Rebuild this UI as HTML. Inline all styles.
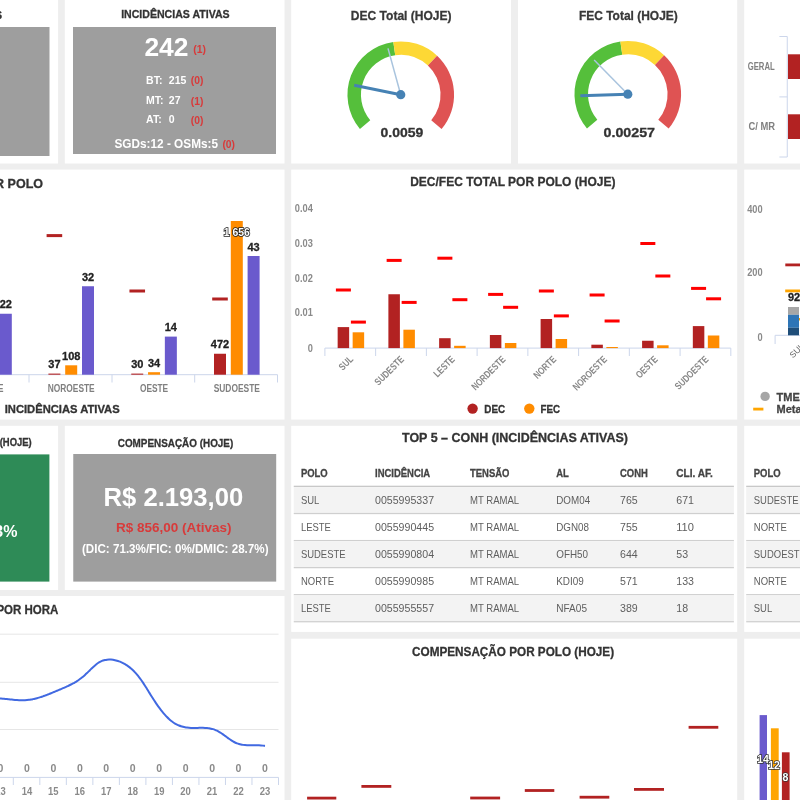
<!DOCTYPE html>
<html><head><meta charset="utf-8"><style>
html,body{margin:0;padding:0;background:#eeeeee;width:800px;height:800px;overflow:hidden}
svg{position:absolute;left:0;top:0;font-family:"Liberation Sans",sans-serif;will-change:transform}
</style></head><body>
<svg width="800" height="800" viewBox="0 0 800 800">
<rect x="-10.00" y="-10.00" width="68.10" height="173.50" fill="#fff" />
<rect x="64.80" y="-10.00" width="219.70" height="173.50" fill="#fff" />
<rect x="291.20" y="-10.00" width="219.80" height="173.50" fill="#fff" />
<rect x="518.00" y="-10.00" width="219.20" height="173.50" fill="#fff" />
<rect x="744.20" y="-10.00" width="65.80" height="173.50" fill="#fff" />
<rect x="-10.00" y="169.60" width="294.50" height="250.00" fill="#fff" />
<rect x="291.20" y="169.60" width="446.00" height="250.00" fill="#fff" />
<rect x="744.20" y="169.60" width="65.80" height="250.00" fill="#fff" />
<rect x="-10.00" y="425.80" width="68.10" height="164.20" fill="#fff" />
<rect x="64.80" y="425.80" width="219.70" height="164.20" fill="#fff" />
<rect x="291.20" y="425.80" width="446.00" height="206.10" fill="#fff" />
<rect x="744.20" y="425.80" width="65.80" height="206.10" fill="#fff" />
<rect x="-10.00" y="596.00" width="294.50" height="214.00" fill="#fff" />
<rect x="291.20" y="638.70" width="446.00" height="171.30" fill="#fff" />
<rect x="744.20" y="638.70" width="65.80" height="171.30" fill="#fff" />
<text x="2.00" y="19.00" font-size="11" fill="#333" font-weight="bold" text-anchor="end"  stroke="#333" stroke-width="0.3">INCIDÊNCIAS ATIVAS</text>
<rect x="-10.00" y="27.00" width="59.50" height="129.00" fill="#9e9e9e" />
<text x="175.40" y="18.40" font-size="11.5" fill="#333" font-weight="bold" text-anchor="middle" textLength="108.50" lengthAdjust="spacingAndGlyphs"  stroke="#333" stroke-width="0.3">INCIDÊNCIAS ATIVAS</text>
<rect x="73.00" y="27.00" width="203.00" height="127.00" fill="#9e9e9e" />
<text x="144.40" y="56.30" font-size="26.5" fill="#fff" font-weight="bold" text-anchor="start" textLength="44.10" lengthAdjust="spacingAndGlyphs" >242</text>
<text x="193.20" y="52.60" font-size="11.5" fill="#d83a3a" font-weight="bold" text-anchor="start" textLength="12.70" lengthAdjust="spacingAndGlyphs" >(1)</text>
<text x="146.10" y="83.60" font-size="10.5" fill="#fff" font-weight="bold" text-anchor="start" >BT:</text>
<text x="168.80" y="83.60" font-size="10.5" fill="#fff" font-weight="bold" text-anchor="start" >215</text>
<text x="190.80" y="84.10" font-size="11.5" fill="#d83a3a" font-weight="bold" text-anchor="start" textLength="12.60" lengthAdjust="spacingAndGlyphs" >(0)</text>
<text x="146.10" y="104.00" font-size="10.5" fill="#fff" font-weight="bold" text-anchor="start" >MT:</text>
<text x="168.80" y="104.00" font-size="10.5" fill="#fff" font-weight="bold" text-anchor="start" >27</text>
<text x="190.80" y="104.50" font-size="11.5" fill="#d83a3a" font-weight="bold" text-anchor="start" textLength="12.60" lengthAdjust="spacingAndGlyphs" >(1)</text>
<text x="146.10" y="123.40" font-size="10.5" fill="#fff" font-weight="bold" text-anchor="start" >AT:</text>
<text x="168.80" y="123.40" font-size="10.5" fill="#fff" font-weight="bold" text-anchor="start" >0</text>
<text x="190.80" y="123.90" font-size="11.5" fill="#d83a3a" font-weight="bold" text-anchor="start" textLength="12.60" lengthAdjust="spacingAndGlyphs" >(0)</text>
<text x="114.50" y="147.80" font-size="12" fill="#fff" font-weight="bold" text-anchor="start" textLength="103.50" lengthAdjust="spacingAndGlyphs" >SGDs:12 - OSMs:5</text>
<text x="222.40" y="148.40" font-size="11.5" fill="#d83a3a" font-weight="bold" text-anchor="start" textLength="12.60" lengthAdjust="spacingAndGlyphs" >(0)</text>
<path d="M359.92,128.96 A53.3,53.3 0 0 1 393.33,41.92 L395.21,55.29 A39.8,39.8 0 0 0 370.26,120.28 Z" fill="#55bf3b"/>
<path d="M393.33,41.92 A53.3,53.3 0 0 1 437.10,55.72 L427.89,65.59 A39.8,39.8 0 0 0 395.21,55.29 Z" fill="#fdd835"/>
<path d="M437.10,55.72 A53.3,53.3 0 0 1 441.58,128.96 L431.24,120.28 A39.8,39.8 0 0 0 427.89,65.59 Z" fill="#df5353"/>
<line x1="400.75" y1="94.70" x2="388.00" y2="48.42" stroke="#a9c4de" stroke-width="1.5" />
<line x1="400.75" y1="94.70" x2="354.20" y2="85.23" stroke="#4682b4" stroke-width="3" />
<circle cx="400.75" cy="94.7" r="4.6" fill="#4682b4"/>
<text x="401.20" y="19.60" font-size="13" fill="#383838" font-weight="bold" text-anchor="middle" textLength="100.80" lengthAdjust="spacingAndGlyphs"  stroke="#383838" stroke-width="0.3">DEC Total (HOJE)</text>
<text x="401.88" y="137.00" font-size="12.5" fill="#333" font-weight="bold" text-anchor="middle" textLength="42.75" lengthAdjust="spacingAndGlyphs"  stroke="#333" stroke-width="0.3">0.0059</text>
<path d="M586.97,128.46 A53.3,53.3 0 0 1 620.38,41.42 L622.26,54.79 A39.8,39.8 0 0 0 597.31,119.78 Z" fill="#55bf3b"/>
<path d="M620.38,41.42 A53.3,53.3 0 0 1 664.15,55.22 L654.94,65.09 A39.8,39.8 0 0 0 622.26,54.79 Z" fill="#fdd835"/>
<path d="M664.15,55.22 A53.3,53.3 0 0 1 668.63,128.46 L658.29,119.78 A39.8,39.8 0 0 0 654.94,65.09 Z" fill="#df5353"/>
<line x1="627.80" y1="94.20" x2="594.16" y2="59.96" stroke="#a9c4de" stroke-width="1.5" />
<line x1="627.80" y1="94.20" x2="580.33" y2="95.86" stroke="#4682b4" stroke-width="3" />
<circle cx="627.8" cy="94.2" r="4.6" fill="#4682b4"/>
<text x="628.35" y="19.60" font-size="13" fill="#383838" font-weight="bold" text-anchor="middle" textLength="98.90" lengthAdjust="spacingAndGlyphs"  stroke="#383838" stroke-width="0.3">FEC Total (HOJE)</text>
<text x="629.25" y="137.00" font-size="12.5" fill="#333" font-weight="bold" text-anchor="middle" textLength="51.50" lengthAdjust="spacingAndGlyphs"  stroke="#333" stroke-width="0.3">0.00257</text>
<line x1="787.25" y1="36.50" x2="787.25" y2="157.00" stroke="#ccd6eb" stroke-width="1" />
<line x1="779.40" y1="36.50" x2="787.25" y2="36.50" stroke="#ccd6eb" stroke-width="1" />
<line x1="779.40" y1="96.90" x2="787.25" y2="96.90" stroke="#ccd6eb" stroke-width="1" />
<line x1="779.40" y1="157.00" x2="787.25" y2="157.00" stroke="#ccd6eb" stroke-width="1" />
<text x="747.70" y="69.60" font-size="10.5" fill="#808080" font-weight="bold" text-anchor="start" textLength="27.00" lengthAdjust="spacingAndGlyphs" >GERAL</text>
<text x="748.40" y="129.70" font-size="10.5" fill="#808080" font-weight="bold" text-anchor="start" textLength="26.60" lengthAdjust="spacingAndGlyphs" >C/ MR</text>
<rect x="788.00" y="54.30" width="22.00" height="24.70" fill="#b22222" />
<rect x="788.00" y="114.30" width="22.00" height="24.70" fill="#b22222" />
<text x="43.00" y="188.20" font-size="12.5" fill="#333" font-weight="bold" text-anchor="end"  stroke="#333" stroke-width="0.3">INCIDÊNCIAS ATIVAS POR POLO</text>
<line x1="-10.00" y1="374.70" x2="277.50" y2="374.70" stroke="#ccd6eb" stroke-width="1" />
<line x1="29.00" y1="374.70" x2="29.00" y2="382.50" stroke="#ccd6eb" stroke-width="1" />
<line x1="112.00" y1="374.70" x2="112.00" y2="382.50" stroke="#ccd6eb" stroke-width="1" />
<line x1="194.70" y1="374.70" x2="194.70" y2="382.50" stroke="#ccd6eb" stroke-width="1" />
<line x1="277.50" y1="374.70" x2="277.50" y2="382.50" stroke="#ccd6eb" stroke-width="1" />
<rect x="-0.20" y="313.75" width="12.00" height="60.95" fill="#6a5acd" />
<text x="-11.00" y="391.50" font-size="10.5" fill="#808080" font-weight="bold" text-anchor="middle" textLength="29.00" lengthAdjust="spacingAndGlyphs" >LESTE</text>
<rect x="48.40" y="373.60" width="12.00" height="1.10" fill="#b22222" />
<rect x="65.20" y="365.30" width="12.00" height="9.40" fill="#ff8c00" />
<rect x="82.00" y="286.25" width="12.00" height="88.45" fill="#6a5acd" />
<rect x="46.60" y="234.10" width="15.60" height="3.00" fill="#b22222" />
<text x="71.20" y="391.50" font-size="10.5" fill="#808080" font-weight="bold" text-anchor="middle" textLength="47.00" lengthAdjust="spacingAndGlyphs" >NOROESTE</text>
<rect x="131.25" y="373.60" width="12.00" height="1.10" fill="#b22222" />
<rect x="148.05" y="372.20" width="12.00" height="2.50" fill="#ff8c00" />
<rect x="164.85" y="336.60" width="12.00" height="38.10" fill="#6a5acd" />
<rect x="129.45" y="289.50" width="15.60" height="3.00" fill="#b22222" />
<text x="154.05" y="391.50" font-size="10.5" fill="#808080" font-weight="bold" text-anchor="middle" textLength="28.30" lengthAdjust="spacingAndGlyphs" >OESTE</text>
<rect x="214.00" y="353.75" width="12.00" height="20.95" fill="#b22222" />
<rect x="230.80" y="221.00" width="12.00" height="153.70" fill="#ff8c00" />
<rect x="247.60" y="256.00" width="12.00" height="118.70" fill="#6a5acd" />
<rect x="212.20" y="297.50" width="15.60" height="3.00" fill="#b22222" />
<text x="236.80" y="391.50" font-size="10.5" fill="#808080" font-weight="bold" text-anchor="middle" textLength="46.30" lengthAdjust="spacingAndGlyphs" >SUDOESTE</text>
<text x="5.80" y="308.40" font-size="11" fill="#222" font-weight="bold" text-anchor="middle"  stroke="#222" stroke-width="0.3">22</text>
<text x="54.40" y="368.40" font-size="11" fill="#222" font-weight="bold" text-anchor="middle"  stroke="#222" stroke-width="0.3">37</text>
<text x="71.20" y="360.00" font-size="11" fill="#222" font-weight="bold" text-anchor="middle"  stroke="#222" stroke-width="0.3">108</text>
<text x="88.00" y="281.20" font-size="11" fill="#222" font-weight="bold" text-anchor="middle"  stroke="#222" stroke-width="0.3">32</text>
<text x="137.25" y="368.40" font-size="11" fill="#222" font-weight="bold" text-anchor="middle"  stroke="#222" stroke-width="0.3">30</text>
<text x="154.05" y="366.80" font-size="11" fill="#222" font-weight="bold" text-anchor="middle"  stroke="#222" stroke-width="0.3">34</text>
<text x="170.85" y="330.90" font-size="11" fill="#222" font-weight="bold" text-anchor="middle"  stroke="#222" stroke-width="0.3">14</text>
<text x="220.00" y="348.00" font-size="11" fill="#222" font-weight="bold" text-anchor="middle"  stroke="#222" stroke-width="0.3">472</text>
<text x="236.80" y="235.50" font-size="11" fill="#fff" font-weight="bold" text-anchor="middle" textLength="26.20" lengthAdjust="spacingAndGlyphs" stroke="#222" stroke-width="1.6" paint-order="stroke">1 656</text>
<text x="253.60" y="250.60" font-size="11" fill="#222" font-weight="bold" text-anchor="middle"  stroke="#222" stroke-width="0.3">43</text>
<text x="4.70" y="413.00" font-size="11" fill="#333" font-weight="bold" text-anchor="start" textLength="115.00" lengthAdjust="spacingAndGlyphs"  stroke="#333" stroke-width="0.3">INCIDÊNCIAS ATIVAS</text>
<text x="512.80" y="186.20" font-size="12.5" fill="#333" font-weight="bold" text-anchor="middle" textLength="205.20" lengthAdjust="spacingAndGlyphs"  stroke="#333" stroke-width="0.3">DEC/FEC TOTAL POR POLO (HOJE)</text>
<text x="312.80" y="211.90" font-size="10.5" fill="#8a8a8a" font-weight="bold" text-anchor="end" textLength="17.98" lengthAdjust="spacingAndGlyphs" >0.04</text>
<text x="312.80" y="246.80" font-size="10.5" fill="#8a8a8a" font-weight="bold" text-anchor="end" textLength="17.98" lengthAdjust="spacingAndGlyphs" >0.03</text>
<text x="312.80" y="281.80" font-size="10.5" fill="#8a8a8a" font-weight="bold" text-anchor="end" textLength="17.98" lengthAdjust="spacingAndGlyphs" >0.02</text>
<text x="312.80" y="316.40" font-size="10.5" fill="#8a8a8a" font-weight="bold" text-anchor="end" textLength="17.98" lengthAdjust="spacingAndGlyphs" >0.01</text>
<text x="312.80" y="351.90" font-size="10.5" fill="#8a8a8a" font-weight="bold" text-anchor="end" textLength="5.14" lengthAdjust="spacingAndGlyphs" >0</text>
<line x1="324.90" y1="348.10" x2="730.80" y2="348.10" stroke="#ccd6eb" stroke-width="1" />
<line x1="324.90" y1="348.10" x2="324.90" y2="356.00" stroke="#ccd6eb" stroke-width="1" />
<line x1="375.64" y1="348.10" x2="375.64" y2="356.00" stroke="#ccd6eb" stroke-width="1" />
<line x1="426.38" y1="348.10" x2="426.38" y2="356.00" stroke="#ccd6eb" stroke-width="1" />
<line x1="477.12" y1="348.10" x2="477.12" y2="356.00" stroke="#ccd6eb" stroke-width="1" />
<line x1="527.86" y1="348.10" x2="527.86" y2="356.00" stroke="#ccd6eb" stroke-width="1" />
<line x1="578.60" y1="348.10" x2="578.60" y2="356.00" stroke="#ccd6eb" stroke-width="1" />
<line x1="629.34" y1="348.10" x2="629.34" y2="356.00" stroke="#ccd6eb" stroke-width="1" />
<line x1="680.08" y1="348.10" x2="680.08" y2="356.00" stroke="#ccd6eb" stroke-width="1" />
<line x1="730.82" y1="348.10" x2="730.82" y2="356.00" stroke="#ccd6eb" stroke-width="1" />
<rect x="337.65" y="327.10" width="11.50" height="21.00" fill="#b22222" />
<rect x="352.65" y="332.30" width="11.50" height="15.80" fill="#ff8c00" />
<rect x="335.90" y="288.50" width="15.00" height="3.00" fill="#ff0000" />
<rect x="350.90" y="320.60" width="15.00" height="3.00" fill="#ff0000" />
<text x="353.90" y="360.00" font-size="10" font-weight="bold" fill="#888" text-anchor="end" textLength="15.60" lengthAdjust="spacingAndGlyphs" transform="rotate(-45 353.90 360.00)">SUL</text>
<rect x="388.39" y="294.25" width="11.50" height="53.85" fill="#b22222" />
<rect x="403.39" y="329.70" width="11.50" height="18.40" fill="#ff8c00" />
<rect x="386.64" y="258.90" width="15.00" height="3.00" fill="#ff0000" />
<rect x="401.64" y="300.90" width="15.00" height="3.00" fill="#ff0000" />
<text x="404.64" y="360.00" font-size="10" font-weight="bold" fill="#888" text-anchor="end" textLength="36.84" lengthAdjust="spacingAndGlyphs" transform="rotate(-45 404.64 360.00)">SUDESTE</text>
<rect x="439.13" y="338.20" width="11.50" height="9.90" fill="#b22222" />
<rect x="454.13" y="345.80" width="11.50" height="2.30" fill="#ff8c00" />
<rect x="437.38" y="256.70" width="15.00" height="3.00" fill="#ff0000" />
<rect x="452.38" y="298.20" width="15.00" height="3.00" fill="#ff0000" />
<text x="455.38" y="360.00" font-size="10" font-weight="bold" fill="#888" text-anchor="end" textLength="25.14" lengthAdjust="spacingAndGlyphs" transform="rotate(-45 455.38 360.00)">LESTE</text>
<rect x="489.87" y="335.00" width="11.50" height="13.10" fill="#b22222" />
<rect x="504.87" y="343.00" width="11.50" height="5.10" fill="#ff8c00" />
<rect x="488.12" y="292.90" width="15.00" height="3.00" fill="#ff0000" />
<rect x="503.12" y="305.80" width="15.00" height="3.00" fill="#ff0000" />
<text x="506.12" y="360.00" font-size="10" font-weight="bold" fill="#888" text-anchor="end" textLength="43.34" lengthAdjust="spacingAndGlyphs" transform="rotate(-45 506.12 360.00)">NORDESTE</text>
<rect x="540.61" y="319.00" width="11.50" height="29.10" fill="#b22222" />
<rect x="555.61" y="339.00" width="11.50" height="9.10" fill="#ff8c00" />
<rect x="538.86" y="289.50" width="15.00" height="3.00" fill="#ff0000" />
<rect x="553.86" y="314.40" width="15.00" height="3.00" fill="#ff0000" />
<text x="556.86" y="360.00" font-size="10" font-weight="bold" fill="#888" text-anchor="end" textLength="27.30" lengthAdjust="spacingAndGlyphs" transform="rotate(-45 556.86 360.00)">NORTE</text>
<rect x="591.35" y="344.70" width="11.50" height="3.40" fill="#b22222" />
<rect x="606.35" y="347.00" width="11.50" height="1.10" fill="#ff8c00" />
<rect x="589.60" y="293.50" width="15.00" height="3.00" fill="#ff0000" />
<rect x="604.60" y="319.50" width="15.00" height="3.00" fill="#ff0000" />
<text x="607.60" y="360.00" font-size="10" font-weight="bold" fill="#888" text-anchor="end" textLength="43.77" lengthAdjust="spacingAndGlyphs" transform="rotate(-45 607.60 360.00)">NOROESTE</text>
<rect x="642.09" y="340.75" width="11.50" height="7.35" fill="#b22222" />
<rect x="657.09" y="345.30" width="11.50" height="2.80" fill="#ff8c00" />
<rect x="640.34" y="242.00" width="15.00" height="3.00" fill="#ff0000" />
<rect x="655.34" y="274.50" width="15.00" height="3.00" fill="#ff0000" />
<text x="658.34" y="360.00" font-size="10" font-weight="bold" fill="#888" text-anchor="end" textLength="26.44" lengthAdjust="spacingAndGlyphs" transform="rotate(-45 658.34 360.00)">OESTE</text>
<rect x="692.83" y="326.10" width="11.50" height="22.00" fill="#b22222" />
<rect x="707.83" y="335.50" width="11.50" height="12.60" fill="#ff8c00" />
<rect x="691.08" y="286.90" width="15.00" height="3.00" fill="#ff0000" />
<rect x="706.08" y="297.30" width="15.00" height="3.00" fill="#ff0000" />
<text x="709.08" y="360.00" font-size="10" font-weight="bold" fill="#888" text-anchor="end" textLength="42.91" lengthAdjust="spacingAndGlyphs" transform="rotate(-45 709.08 360.00)">SUDOESTE</text>
<circle cx="472.6" cy="408.6" r="5.2" fill="#b22222"/>
<text x="484.30" y="412.60" font-size="11" fill="#333" font-weight="bold" text-anchor="start" textLength="20.80" lengthAdjust="spacingAndGlyphs"  stroke="#333" stroke-width="0.3">DEC</text>
<circle cx="529.3" cy="408.6" r="5.2" fill="#ff8c00"/>
<text x="540.60" y="412.60" font-size="11" fill="#333" font-weight="bold" text-anchor="start" textLength="19.50" lengthAdjust="spacingAndGlyphs"  stroke="#333" stroke-width="0.3">FEC</text>
<text x="762.60" y="212.60" font-size="10.5" fill="#8a8a8a" font-weight="bold" text-anchor="end" textLength="15.42" lengthAdjust="spacingAndGlyphs" >400</text>
<text x="762.60" y="276.10" font-size="10.5" fill="#8a8a8a" font-weight="bold" text-anchor="end" textLength="15.42" lengthAdjust="spacingAndGlyphs" >200</text>
<text x="762.60" y="340.60" font-size="10.5" fill="#8a8a8a" font-weight="bold" text-anchor="end" textLength="5.14" lengthAdjust="spacingAndGlyphs" >0</text>
<line x1="775.10" y1="335.30" x2="810.00" y2="335.30" stroke="#ccd6eb" stroke-width="1" />
<line x1="775.10" y1="335.30" x2="775.10" y2="344.00" stroke="#ccd6eb" stroke-width="1" />
<rect x="785.30" y="263.50" width="24.70" height="2.80" fill="#b22222" />
<rect x="785.20" y="289.50" width="24.80" height="2.80" fill="#ffa500" />
<text x="788.00" y="301.10" font-size="11" fill="#222" font-weight="bold" text-anchor="start"  stroke="#222" stroke-width="0.3">92</text>
<rect x="788.00" y="307.00" width="11.00" height="7.80" fill="#a6a6a6" />
<rect x="788.00" y="314.80" width="11.00" height="12.95" fill="#2e75b6" />
<rect x="788.00" y="327.75" width="11.00" height="7.55" fill="#1f4e79" />
<rect x="799.00" y="318.00" width="3.00" height="2.50" fill="#ffa500" />
<text x="793" y="358.5" font-size="8.5" fill="#666" text-anchor="start" transform="rotate(-45 793 358.5)">SUL</text>
<circle cx="765.1" cy="396.4" r="4.7" fill="#a6a6a6"/>
<text x="776.60" y="400.80" font-size="11" fill="#444" font-weight="bold" text-anchor="start"  stroke="#444" stroke-width="0.3">TME</text>
<rect x="753.20" y="407.70" width="10.20" height="2.80" fill="#ffa500" />
<text x="776.60" y="412.80" font-size="11" fill="#444" font-weight="bold" text-anchor="start"  stroke="#444" stroke-width="0.3">Meta</text>
<text x="-0.30" y="446.00" font-size="11.5" fill="#333" font-weight="bold" text-anchor="start" textLength="32.00" lengthAdjust="spacingAndGlyphs"  stroke="#333" stroke-width="0.3">(HOJE)</text>
<text x="-4.00" y="446.00" font-size="11.5" fill="#333" font-weight="bold" text-anchor="end"  stroke="#333" stroke-width="0.3">DIC/FIC</text>
<rect x="-10.00" y="454.40" width="59.40" height="127.20" fill="#2e8b57" />
<text x="17.40" y="537.00" font-size="16" fill="#fff" font-weight="bold" text-anchor="end" >78.3%</text>
<text x="175.50" y="446.50" font-size="11.5" fill="#333" font-weight="bold" text-anchor="middle" textLength="115.50" lengthAdjust="spacingAndGlyphs"  stroke="#333" stroke-width="0.3">COMPENSAÇÃO (HOJE)</text>
<rect x="73.25" y="454.00" width="202.95" height="127.60" fill="#9e9e9e" />
<text x="103.50" y="506.10" font-size="26" fill="#fff" font-weight="bold" text-anchor="start" textLength="139.70" lengthAdjust="spacingAndGlyphs" >R$ 2.193,00</text>
<text x="115.90" y="531.70" font-size="13.5" fill="#d83a3a" font-weight="bold" text-anchor="start" textLength="115.50" lengthAdjust="spacingAndGlyphs" >R$ 856,00 (Ativas)</text>
<text x="82.00" y="552.90" font-size="12" fill="#fff" font-weight="bold" text-anchor="start" textLength="186.50" lengthAdjust="spacingAndGlyphs" >(DIC: 71.3%/FIC: 0%/DMIC: 28.7%)</text>
<text x="514.95" y="441.60" font-size="12.5" fill="#333" font-weight="bold" text-anchor="middle" textLength="225.90" lengthAdjust="spacingAndGlyphs"  stroke="#333" stroke-width="0.3">TOP 5 – CONH (INCIDÊNCIAS ATIVAS)</text>
<text x="300.90" y="476.90" font-size="11" fill="#444" font-weight="bold" text-anchor="start" textLength="26.80" lengthAdjust="spacingAndGlyphs"  stroke="#444" stroke-width="0.3">POLO</text>
<text x="375.00" y="476.90" font-size="11" fill="#444" font-weight="bold" text-anchor="start" textLength="55.18" lengthAdjust="spacingAndGlyphs"  stroke="#444" stroke-width="0.3">INCIDÊNCIA</text>
<text x="470.00" y="476.90" font-size="11" fill="#444" font-weight="bold" text-anchor="start" textLength="39.42" lengthAdjust="spacingAndGlyphs"  stroke="#444" stroke-width="0.3">TENSÃO</text>
<text x="556.25" y="476.90" font-size="11" fill="#444" font-weight="bold" text-anchor="start" textLength="12.61" lengthAdjust="spacingAndGlyphs"  stroke="#444" stroke-width="0.3">AL</text>
<text x="620.00" y="476.90" font-size="11" fill="#444" font-weight="bold" text-anchor="start" textLength="27.85" lengthAdjust="spacingAndGlyphs"  stroke="#444" stroke-width="0.3">CONH</text>
<text x="676.25" y="476.90" font-size="11" fill="#444" font-weight="bold" text-anchor="start" textLength="36.56" lengthAdjust="spacingAndGlyphs"  stroke="#444" stroke-width="0.3">CLI. AF.</text>
<rect x="293.75" y="485.70" width="440.15" height="1.40" fill="#c8c8c8" />
<rect x="293.75" y="487.10" width="440.15" height="25.80" fill="#f3f3f3" />
<rect x="293.75" y="512.90" width="440.15" height="1.25" fill="#cfcfcf" />
<text x="300.90" y="503.90" font-size="11" fill="#5e5e5e" font-weight="normal" text-anchor="start" textLength="18.40" lengthAdjust="spacingAndGlyphs" >SUL</text>
<text x="375.00" y="503.90" font-size="11" fill="#5e5e5e" font-weight="normal" text-anchor="start" textLength="59.04" lengthAdjust="spacingAndGlyphs" >0055995337</text>
<text x="470.00" y="503.90" font-size="11" fill="#5e5e5e" font-weight="normal" text-anchor="start" textLength="49.15" lengthAdjust="spacingAndGlyphs" >MT RAMAL</text>
<text x="556.25" y="503.90" font-size="11" fill="#5e5e5e" font-weight="normal" text-anchor="start" textLength="33.88" lengthAdjust="spacingAndGlyphs" >DOM04</text>
<text x="620.00" y="503.90" font-size="11" fill="#5e5e5e" font-weight="normal" text-anchor="start" textLength="17.71" lengthAdjust="spacingAndGlyphs" >765</text>
<text x="676.25" y="503.90" font-size="11" fill="#5e5e5e" font-weight="normal" text-anchor="start" textLength="17.71" lengthAdjust="spacingAndGlyphs" >671</text>
<rect x="293.75" y="539.95" width="440.15" height="1.25" fill="#cfcfcf" />
<text x="300.90" y="530.95" font-size="11" fill="#5e5e5e" font-weight="normal" text-anchor="start" textLength="29.97" lengthAdjust="spacingAndGlyphs" >LESTE</text>
<text x="375.00" y="530.95" font-size="11" fill="#5e5e5e" font-weight="normal" text-anchor="start" textLength="59.04" lengthAdjust="spacingAndGlyphs" >0055990445</text>
<text x="470.00" y="530.95" font-size="11" fill="#5e5e5e" font-weight="normal" text-anchor="start" textLength="49.15" lengthAdjust="spacingAndGlyphs" >MT RAMAL</text>
<text x="556.25" y="530.95" font-size="11" fill="#5e5e5e" font-weight="normal" text-anchor="start" textLength="32.83" lengthAdjust="spacingAndGlyphs" >DGN08</text>
<text x="620.00" y="530.95" font-size="11" fill="#5e5e5e" font-weight="normal" text-anchor="start" textLength="17.71" lengthAdjust="spacingAndGlyphs" >755</text>
<text x="676.25" y="530.95" font-size="11" fill="#5e5e5e" font-weight="normal" text-anchor="start" textLength="17.71" lengthAdjust="spacingAndGlyphs" >110</text>
<rect x="293.75" y="541.20" width="440.15" height="25.80" fill="#f3f3f3" />
<rect x="293.75" y="567.00" width="440.15" height="1.25" fill="#cfcfcf" />
<text x="300.90" y="558.00" font-size="11" fill="#5e5e5e" font-weight="normal" text-anchor="start" textLength="44.68" lengthAdjust="spacingAndGlyphs" >SUDESTE</text>
<text x="375.00" y="558.00" font-size="11" fill="#5e5e5e" font-weight="normal" text-anchor="start" textLength="59.04" lengthAdjust="spacingAndGlyphs" >0055990804</text>
<text x="470.00" y="558.00" font-size="11" fill="#5e5e5e" font-weight="normal" text-anchor="start" textLength="49.15" lengthAdjust="spacingAndGlyphs" >MT RAMAL</text>
<text x="556.25" y="558.00" font-size="11" fill="#5e5e5e" font-weight="normal" text-anchor="start" textLength="31.78" lengthAdjust="spacingAndGlyphs" >OFH50</text>
<text x="620.00" y="558.00" font-size="11" fill="#5e5e5e" font-weight="normal" text-anchor="start" textLength="17.71" lengthAdjust="spacingAndGlyphs" >644</text>
<text x="676.25" y="558.00" font-size="11" fill="#5e5e5e" font-weight="normal" text-anchor="start" textLength="11.81" lengthAdjust="spacingAndGlyphs" >53</text>
<rect x="293.75" y="594.05" width="440.15" height="1.25" fill="#cfcfcf" />
<text x="300.90" y="585.05" font-size="11" fill="#5e5e5e" font-weight="normal" text-anchor="start" textLength="33.11" lengthAdjust="spacingAndGlyphs" >NORTE</text>
<text x="375.00" y="585.05" font-size="11" fill="#5e5e5e" font-weight="normal" text-anchor="start" textLength="59.04" lengthAdjust="spacingAndGlyphs" >0055990985</text>
<text x="470.00" y="585.05" font-size="11" fill="#5e5e5e" font-weight="normal" text-anchor="start" textLength="49.15" lengthAdjust="spacingAndGlyphs" >MT RAMAL</text>
<text x="556.25" y="585.05" font-size="11" fill="#5e5e5e" font-weight="normal" text-anchor="start" textLength="27.58" lengthAdjust="spacingAndGlyphs" >KDI09</text>
<text x="620.00" y="585.05" font-size="11" fill="#5e5e5e" font-weight="normal" text-anchor="start" textLength="17.71" lengthAdjust="spacingAndGlyphs" >571</text>
<text x="676.25" y="585.05" font-size="11" fill="#5e5e5e" font-weight="normal" text-anchor="start" textLength="17.71" lengthAdjust="spacingAndGlyphs" >133</text>
<rect x="293.75" y="595.30" width="440.15" height="25.80" fill="#f3f3f3" />
<rect x="293.75" y="621.10" width="440.15" height="1.25" fill="#cfcfcf" />
<text x="300.90" y="612.10" font-size="11" fill="#5e5e5e" font-weight="normal" text-anchor="start" textLength="29.97" lengthAdjust="spacingAndGlyphs" >LESTE</text>
<text x="375.00" y="612.10" font-size="11" fill="#5e5e5e" font-weight="normal" text-anchor="start" textLength="59.04" lengthAdjust="spacingAndGlyphs" >0055955557</text>
<text x="470.00" y="612.10" font-size="11" fill="#5e5e5e" font-weight="normal" text-anchor="start" textLength="49.15" lengthAdjust="spacingAndGlyphs" >MT RAMAL</text>
<text x="556.25" y="612.10" font-size="11" fill="#5e5e5e" font-weight="normal" text-anchor="start" textLength="30.73" lengthAdjust="spacingAndGlyphs" >NFA05</text>
<text x="620.00" y="612.10" font-size="11" fill="#5e5e5e" font-weight="normal" text-anchor="start" textLength="17.71" lengthAdjust="spacingAndGlyphs" >389</text>
<text x="676.25" y="612.10" font-size="11" fill="#5e5e5e" font-weight="normal" text-anchor="start" textLength="11.81" lengthAdjust="spacingAndGlyphs" >18</text>
<text x="753.80" y="476.90" font-size="11" fill="#444" font-weight="bold" text-anchor="start" textLength="26.80" lengthAdjust="spacingAndGlyphs"  stroke="#444" stroke-width="0.3">POLO</text>
<rect x="746.20" y="485.70" width="63.80" height="1.40" fill="#c8c8c8" />
<rect x="746.20" y="487.10" width="63.80" height="25.80" fill="#f3f3f3" />
<rect x="746.20" y="512.90" width="63.80" height="1.25" fill="#cfcfcf" />
<text x="753.80" y="503.90" font-size="11" fill="#5e5e5e" font-weight="normal" text-anchor="start" textLength="44.68" lengthAdjust="spacingAndGlyphs" >SUDESTE</text>
<rect x="746.20" y="539.95" width="63.80" height="1.25" fill="#cfcfcf" />
<text x="753.80" y="530.95" font-size="11" fill="#5e5e5e" font-weight="normal" text-anchor="start" textLength="33.11" lengthAdjust="spacingAndGlyphs" >NORTE</text>
<rect x="746.20" y="541.20" width="63.80" height="25.80" fill="#f3f3f3" />
<rect x="746.20" y="567.00" width="63.80" height="1.25" fill="#cfcfcf" />
<text x="753.80" y="558.00" font-size="11" fill="#5e5e5e" font-weight="normal" text-anchor="start" textLength="52.04" lengthAdjust="spacingAndGlyphs" >SUDOESTE</text>
<rect x="746.20" y="594.05" width="63.80" height="1.25" fill="#cfcfcf" />
<text x="753.80" y="585.05" font-size="11" fill="#5e5e5e" font-weight="normal" text-anchor="start" textLength="33.11" lengthAdjust="spacingAndGlyphs" >NORTE</text>
<rect x="746.20" y="595.30" width="63.80" height="25.80" fill="#f3f3f3" />
<rect x="746.20" y="621.10" width="63.80" height="1.25" fill="#cfcfcf" />
<text x="753.80" y="612.10" font-size="11" fill="#5e5e5e" font-weight="normal" text-anchor="start" textLength="18.40" lengthAdjust="spacingAndGlyphs" >SUL</text>
<text x="58.40" y="613.60" font-size="12.5" fill="#333" font-weight="bold" text-anchor="end" textLength="62.00" lengthAdjust="spacingAndGlyphs"  stroke="#333" stroke-width="0.3">POR HORA</text>
<text x="-7.00" y="613.60" font-size="12.5" fill="#333" font-weight="bold" text-anchor="end"  stroke="#333" stroke-width="0.3">INCIDÊNCIAS</text>
<line x1="-10.00" y1="634.20" x2="278.50" y2="634.20" stroke="#e6e6e6" stroke-width="1" />
<line x1="-10.00" y1="682.30" x2="278.50" y2="682.30" stroke="#e6e6e6" stroke-width="1" />
<line x1="-10.00" y1="729.50" x2="278.50" y2="729.50" stroke="#e6e6e6" stroke-width="1" />
<line x1="-10.00" y1="777.40" x2="278.50" y2="777.40" stroke="#ccd6eb" stroke-width="1" />
<line x1="-13.22" y1="777.40" x2="-13.22" y2="785.00" stroke="#ccd6eb" stroke-width="1" />
<line x1="13.30" y1="777.40" x2="13.30" y2="785.00" stroke="#ccd6eb" stroke-width="1" />
<line x1="39.82" y1="777.40" x2="39.82" y2="785.00" stroke="#ccd6eb" stroke-width="1" />
<line x1="66.34" y1="777.40" x2="66.34" y2="785.00" stroke="#ccd6eb" stroke-width="1" />
<line x1="92.86" y1="777.40" x2="92.86" y2="785.00" stroke="#ccd6eb" stroke-width="1" />
<line x1="119.38" y1="777.40" x2="119.38" y2="785.00" stroke="#ccd6eb" stroke-width="1" />
<line x1="145.90" y1="777.40" x2="145.90" y2="785.00" stroke="#ccd6eb" stroke-width="1" />
<line x1="172.42" y1="777.40" x2="172.42" y2="785.00" stroke="#ccd6eb" stroke-width="1" />
<line x1="198.94" y1="777.40" x2="198.94" y2="785.00" stroke="#ccd6eb" stroke-width="1" />
<line x1="225.46" y1="777.40" x2="225.46" y2="785.00" stroke="#ccd6eb" stroke-width="1" />
<line x1="251.98" y1="777.40" x2="251.98" y2="785.00" stroke="#ccd6eb" stroke-width="1" />
<line x1="278.50" y1="777.40" x2="278.50" y2="785.00" stroke="#ccd6eb" stroke-width="1" />
<text x="-26.00" y="772.40" font-size="10.5" fill="#8a8a8a" font-weight="bold" text-anchor="middle" >0</text>
<text x="-26.00" y="794.70" font-size="10.5" fill="#8a8a8a" font-weight="bold" text-anchor="middle" textLength="10.51" lengthAdjust="spacingAndGlyphs" >12</text>
<text x="0.45" y="772.40" font-size="10.5" fill="#8a8a8a" font-weight="bold" text-anchor="middle" >0</text>
<text x="0.45" y="794.70" font-size="10.5" fill="#8a8a8a" font-weight="bold" text-anchor="middle" textLength="10.51" lengthAdjust="spacingAndGlyphs" >13</text>
<text x="26.90" y="772.40" font-size="10.5" fill="#8a8a8a" font-weight="bold" text-anchor="middle" >0</text>
<text x="26.90" y="794.70" font-size="10.5" fill="#8a8a8a" font-weight="bold" text-anchor="middle" textLength="10.51" lengthAdjust="spacingAndGlyphs" >14</text>
<text x="53.35" y="772.40" font-size="10.5" fill="#8a8a8a" font-weight="bold" text-anchor="middle" >0</text>
<text x="53.35" y="794.70" font-size="10.5" fill="#8a8a8a" font-weight="bold" text-anchor="middle" textLength="10.51" lengthAdjust="spacingAndGlyphs" >15</text>
<text x="79.80" y="772.40" font-size="10.5" fill="#8a8a8a" font-weight="bold" text-anchor="middle" >0</text>
<text x="79.80" y="794.70" font-size="10.5" fill="#8a8a8a" font-weight="bold" text-anchor="middle" textLength="10.51" lengthAdjust="spacingAndGlyphs" >16</text>
<text x="106.25" y="772.40" font-size="10.5" fill="#8a8a8a" font-weight="bold" text-anchor="middle" >0</text>
<text x="106.25" y="794.70" font-size="10.5" fill="#8a8a8a" font-weight="bold" text-anchor="middle" textLength="10.51" lengthAdjust="spacingAndGlyphs" >17</text>
<text x="132.70" y="772.40" font-size="10.5" fill="#8a8a8a" font-weight="bold" text-anchor="middle" >0</text>
<text x="132.70" y="794.70" font-size="10.5" fill="#8a8a8a" font-weight="bold" text-anchor="middle" textLength="10.51" lengthAdjust="spacingAndGlyphs" >18</text>
<text x="159.15" y="772.40" font-size="10.5" fill="#8a8a8a" font-weight="bold" text-anchor="middle" >0</text>
<text x="159.15" y="794.70" font-size="10.5" fill="#8a8a8a" font-weight="bold" text-anchor="middle" textLength="10.51" lengthAdjust="spacingAndGlyphs" >19</text>
<text x="185.60" y="772.40" font-size="10.5" fill="#8a8a8a" font-weight="bold" text-anchor="middle" >0</text>
<text x="185.60" y="794.70" font-size="10.5" fill="#8a8a8a" font-weight="bold" text-anchor="middle" textLength="10.51" lengthAdjust="spacingAndGlyphs" >20</text>
<text x="212.05" y="772.40" font-size="10.5" fill="#8a8a8a" font-weight="bold" text-anchor="middle" >0</text>
<text x="212.05" y="794.70" font-size="10.5" fill="#8a8a8a" font-weight="bold" text-anchor="middle" textLength="10.51" lengthAdjust="spacingAndGlyphs" >21</text>
<text x="238.50" y="772.40" font-size="10.5" fill="#8a8a8a" font-weight="bold" text-anchor="middle" >0</text>
<text x="238.50" y="794.70" font-size="10.5" fill="#8a8a8a" font-weight="bold" text-anchor="middle" textLength="10.51" lengthAdjust="spacingAndGlyphs" >22</text>
<text x="264.95" y="772.40" font-size="10.5" fill="#8a8a8a" font-weight="bold" text-anchor="middle" >0</text>
<text x="264.95" y="794.70" font-size="10.5" fill="#8a8a8a" font-weight="bold" text-anchor="middle" textLength="10.51" lengthAdjust="spacingAndGlyphs" >23</text>
<path d="M-3.00,698.33 C-2.67,698.34 -1.67,698.38 -1.00,698.42 C-0.33,698.46 0.33,698.50 1.00,698.55 C1.67,698.60 2.33,698.66 3.00,698.72 C3.67,698.77 4.33,698.84 5.00,698.90 C5.67,698.97 6.33,699.04 7.00,699.10 C7.67,699.17 8.33,699.24 9.00,699.31 C9.67,699.38 10.33,699.45 11.00,699.52 C11.67,699.58 12.33,699.65 13.00,699.71 C13.67,699.77 14.33,699.83 15.00,699.88 C15.67,699.94 16.33,699.99 17.00,700.03 C17.67,700.07 18.33,700.11 19.00,700.13 C19.67,700.16 20.33,700.18 21.00,700.19 C21.67,700.21 22.33,700.21 23.00,700.20 C23.67,700.19 24.33,700.17 25.00,700.14 C25.67,700.11 26.33,700.07 27.00,700.01 C27.67,699.95 28.33,699.88 29.00,699.80 C29.67,699.72 30.33,699.62 31.00,699.51 C31.67,699.40 32.33,699.27 33.00,699.14 C33.67,699.00 34.33,698.85 35.00,698.69 C35.67,698.54 36.33,698.37 37.00,698.19 C37.67,698.01 38.33,697.82 39.00,697.62 C39.67,697.42 40.33,697.21 41.00,697.00 C41.67,696.78 42.33,696.56 43.00,696.33 C43.67,696.10 44.33,695.86 45.00,695.62 C45.67,695.37 46.33,695.12 47.00,694.87 C47.67,694.61 48.33,694.35 49.00,694.08 C49.67,693.82 50.33,693.55 51.00,693.28 C51.67,693.00 52.33,692.73 53.00,692.45 C53.67,692.17 54.33,691.89 55.00,691.61 C55.67,691.32 56.33,691.04 57.00,690.75 C57.67,690.47 58.33,690.18 59.00,689.90 C59.67,689.62 60.33,689.33 61.00,689.05 C61.67,688.76 62.33,688.48 63.00,688.19 C63.67,687.91 64.33,687.62 65.00,687.32 C65.67,687.03 66.33,686.73 67.00,686.43 C67.67,686.12 68.33,685.81 69.00,685.49 C69.67,685.17 70.33,684.84 71.00,684.50 C71.67,684.16 72.33,683.80 73.00,683.44 C73.67,683.07 74.33,682.69 75.00,682.30 C75.67,681.90 76.33,681.49 77.00,681.06 C77.67,680.63 78.33,680.19 79.00,679.72 C79.67,679.26 80.33,678.77 81.00,678.26 C81.67,677.75 82.33,677.22 83.00,676.67 C83.67,676.11 84.33,675.53 85.00,674.93 C85.67,674.32 86.33,673.69 87.00,673.05 C87.67,672.41 88.33,671.75 89.00,671.10 C89.67,670.44 90.33,669.78 91.00,669.13 C91.67,668.49 92.33,667.84 93.00,667.22 C93.67,666.60 94.33,665.99 95.00,665.43 C95.67,664.86 96.33,664.31 97.00,663.81 C97.67,663.31 98.33,662.85 99.00,662.44 C99.67,662.03 100.33,661.67 101.00,661.36 C101.67,661.04 102.33,660.77 103.00,660.54 C103.67,660.31 104.33,660.12 105.00,659.97 C105.67,659.82 106.33,659.71 107.00,659.64 C107.67,659.56 108.33,659.52 109.00,659.51 C109.67,659.50 110.33,659.53 111.00,659.58 C111.67,659.63 112.33,659.71 113.00,659.81 C113.67,659.92 114.33,660.05 115.00,660.20 C115.67,660.36 116.33,660.53 117.00,660.73 C117.67,660.92 118.33,661.14 119.00,661.38 C119.67,661.62 120.33,661.88 121.00,662.16 C121.67,662.45 122.33,662.76 123.00,663.10 C123.67,663.44 124.33,663.80 125.00,664.19 C125.67,664.59 126.33,665.00 127.00,665.45 C127.67,665.90 128.33,666.38 129.00,666.89 C129.67,667.40 130.33,667.94 131.00,668.52 C131.67,669.09 132.33,669.70 133.00,670.34 C133.67,670.98 134.33,671.65 135.00,672.37 C135.67,673.08 136.33,673.82 137.00,674.61 C137.67,675.39 138.33,676.21 139.00,677.06 C139.67,677.91 140.33,678.80 141.00,679.73 C141.67,680.66 142.33,681.63 143.00,682.62 C143.67,683.62 144.33,684.66 145.00,685.71 C145.67,686.76 146.33,687.84 147.00,688.92 C147.67,689.99 148.33,691.09 149.00,692.18 C149.67,693.26 150.33,694.35 151.00,695.42 C151.67,696.49 152.33,697.54 153.00,698.58 C153.67,699.61 154.33,700.63 155.00,701.63 C155.67,702.63 156.33,703.61 157.00,704.57 C157.67,705.53 158.33,706.46 159.00,707.38 C159.67,708.29 160.33,709.18 161.00,710.04 C161.67,710.90 162.33,711.73 163.00,712.54 C163.67,713.35 164.33,714.13 165.00,714.87 C165.67,715.62 166.33,716.34 167.00,717.02 C167.67,717.70 168.33,718.36 169.00,718.97 C169.67,719.59 170.33,720.17 171.00,720.71 C171.67,721.25 172.33,721.76 173.00,722.23 C173.67,722.69 174.33,723.12 175.00,723.52 C175.67,723.92 176.33,724.28 177.00,724.61 C177.67,724.94 178.33,725.24 179.00,725.51 C179.67,725.78 180.33,726.02 181.00,726.23 C181.67,726.45 182.33,726.64 183.00,726.81 C183.67,726.97 184.33,727.12 185.00,727.24 C185.67,727.37 186.33,727.47 187.00,727.55 C187.67,727.64 188.33,727.71 189.00,727.76 C189.67,727.82 190.33,727.86 191.00,727.88 C191.67,727.91 192.33,727.93 193.00,727.93 C193.67,727.94 194.33,727.94 195.00,727.93 C195.67,727.93 196.33,727.91 197.00,727.90 C197.67,727.89 198.33,727.87 199.00,727.86 C199.67,727.85 200.33,727.83 201.00,727.83 C201.67,727.83 202.33,727.82 203.00,727.84 C203.67,727.85 204.33,727.87 205.00,727.90 C205.67,727.93 206.33,727.98 207.00,728.04 C207.67,728.11 208.33,728.18 209.00,728.28 C209.67,728.38 210.33,728.50 211.00,728.65 C211.67,728.79 212.33,728.96 213.00,729.16 C213.67,729.35 214.33,729.57 215.00,729.83 C215.67,730.09 216.33,730.37 217.00,730.69 C217.67,731.01 218.33,731.38 219.00,731.76 C219.67,732.15 220.33,732.57 221.00,733.00 C221.67,733.44 222.33,733.91 223.00,734.38 C223.67,734.85 224.33,735.34 225.00,735.83 C225.67,736.31 226.33,736.81 227.00,737.30 C227.67,737.79 228.33,738.28 229.00,738.75 C229.67,739.23 230.33,739.70 231.00,740.13 C231.67,740.57 232.33,741.00 233.00,741.39 C233.67,741.78 234.33,742.15 235.00,742.48 C235.67,742.80 236.33,743.09 237.00,743.35 C237.67,743.61 238.33,743.83 239.00,744.02 C239.67,744.22 240.33,744.38 241.00,744.53 C241.67,744.67 242.33,744.78 243.00,744.88 C243.67,744.97 244.33,745.04 245.00,745.10 C245.67,745.16 246.33,745.20 247.00,745.23 C247.67,745.26 248.33,745.27 249.00,745.28 C249.67,745.29 250.33,745.29 251.00,745.29 C251.67,745.28 252.33,745.27 253.00,745.26 C253.67,745.25 254.33,745.24 255.00,745.24 C255.67,745.23 256.33,745.23 257.00,745.24 C257.67,745.24 258.33,745.26 259.00,745.28 C259.67,745.31 260.33,745.35 261.00,745.40 C261.67,745.46 262.33,745.53 263.00,745.62 C263.67,745.72 264.67,745.91 265.00,745.96" fill="none" stroke="#4169e1" stroke-width="2"/>
<text x="513.10" y="655.90" font-size="12.5" fill="#333" font-weight="bold" text-anchor="middle" textLength="202.00" lengthAdjust="spacingAndGlyphs"  stroke="#333" stroke-width="0.3">COMPENSAÇÃO POR POLO (HOJE)</text>
<rect x="307.10" y="796.70" width="29.20" height="2.80" fill="#b22222" />
<rect x="361.40" y="785.00" width="29.90" height="2.80" fill="#b22222" />
<rect x="470.20" y="796.60" width="29.90" height="2.80" fill="#b22222" />
<rect x="524.80" y="789.10" width="29.50" height="2.80" fill="#b22222" />
<rect x="579.60" y="795.80" width="29.70" height="2.80" fill="#b22222" />
<rect x="634.00" y="788.00" width="30.00" height="2.80" fill="#b22222" />
<rect x="688.60" y="725.90" width="29.70" height="2.80" fill="#b22222" />
<rect x="759.60" y="715.10" width="7.40" height="94.90" fill="#6a5acd" />
<rect x="770.90" y="728.30" width="7.80" height="81.70" fill="#ffa500" />
<rect x="781.90" y="752.30" width="7.70" height="57.70" fill="#b22222" />
<text x="763.00" y="762.50" font-size="10.5" fill="#fff" font-weight="bold" text-anchor="middle" stroke="#333" stroke-width="1.6" paint-order="stroke">14</text>
<text x="774.00" y="768.90" font-size="10.5" fill="#fff" font-weight="bold" text-anchor="middle" stroke="#333" stroke-width="1.6" paint-order="stroke">12</text>
<text x="785.30" y="780.60" font-size="10.5" fill="#fff" font-weight="bold" text-anchor="middle" stroke="#333" stroke-width="1.6" paint-order="stroke">8</text>
</svg></body></html>
